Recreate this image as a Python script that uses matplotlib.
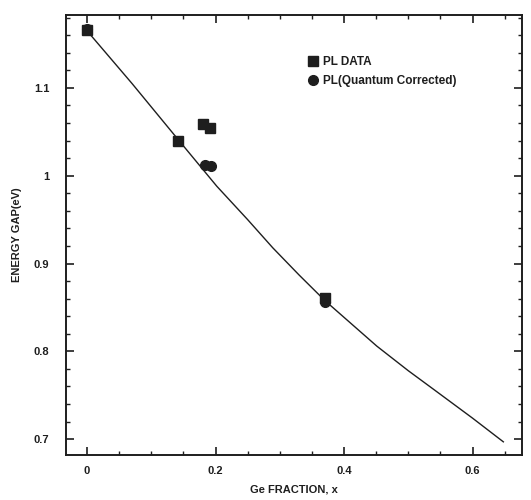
import numpy as np
import matplotlib.pyplot as plt
from matplotlib.ticker import MultipleLocator, FixedLocator

plt.rcParams['font.family'] = ['Liberation Sans', 'DejaVu Sans']

# PL data (squares)
pl_x = [0.0, 0.142, 0.181, 0.191, 0.370]
pl_y = [1.166, 1.040, 1.059, 1.054, 0.861]

# PL quantum corrected (circles)
qc_x = [0.0, 0.184, 0.193, 0.370]
qc_y = [1.167, 1.012, 1.011, 0.856]

# theory curve
fit_x = [0.0, 0.07, 0.142, 0.202, 0.25, 0.289, 0.33, 0.370, 0.451, 0.50, 0.539, 0.60, 0.648]
fit_y = [1.165, 1.105, 1.041, 0.988, 0.950, 0.918, 0.887, 0.858, 0.806, 0.778, 0.757, 0.724, 0.697]

fig = plt.figure(figsize=(5.31, 5.00), dpi=100)
ax = fig.add_axes([0.124, 0.09, 0.859, 0.88])

ink = '#1e1e1e'
ax.plot(fit_x, fit_y, color=ink, lw=1.0)
ax.plot(pl_x, pl_y, 's', color=ink, ms=6.5, label='PL DATA')
ax.plot(qc_x, qc_y, 'o', color=ink, ms=7, label='PL(Quantum Corrected)')

ax.set_xlim(-0.033, 0.677)
ax.set_ylim(0.682, 1.183)

ax.xaxis.set_major_locator(FixedLocator([0, 0.2, 0.4, 0.6]))
ax.xaxis.set_minor_locator(MultipleLocator(0.05))
ax.yaxis.set_major_locator(FixedLocator([0.7, 0.8, 0.9, 1.0, 1.1]))
ax.yaxis.set_minor_locator(MultipleLocator(0.02))
ax.set_xticklabels(['0', '0.2', '0.4', '0.6'], fontsize=8, fontweight='bold', color=ink)
ax.set_yticklabels(['0.7', '0.8', '0.9', '1', '1.1'], fontsize=8, fontweight='bold', color=ink)

ax.tick_params(which='both', direction='in', top=True, right=True, color=ink)
ax.tick_params(which='major', length=6, width=1.2)
ax.tick_params(axis='x', which='major', pad=8)
ax.tick_params(axis='y', which='major', pad=12)
ax.tick_params(which='minor', length=3, width=1.0)
for s in ax.spines.values():
    s.set_linewidth(1.4)
    s.set_color(ink)

ax.set_xlabel('Ge FRACTION, x', fontsize=8, fontweight='bold', color=ink, labelpad=6)
ax.set_ylabel('ENERGY GAP(eV)', fontsize=8, fontweight='bold', color=ink, labelpad=8)

ax.legend(loc='upper left', bbox_to_anchor=(0.505, 0.93), frameon=False,
          prop={'size': 8.5, 'weight': 'bold'}, handletextpad=0.35,
          labelspacing=0.55, handlelength=1.0, labelcolor=ink)

fig.savefig('out.png', dpi=100)
